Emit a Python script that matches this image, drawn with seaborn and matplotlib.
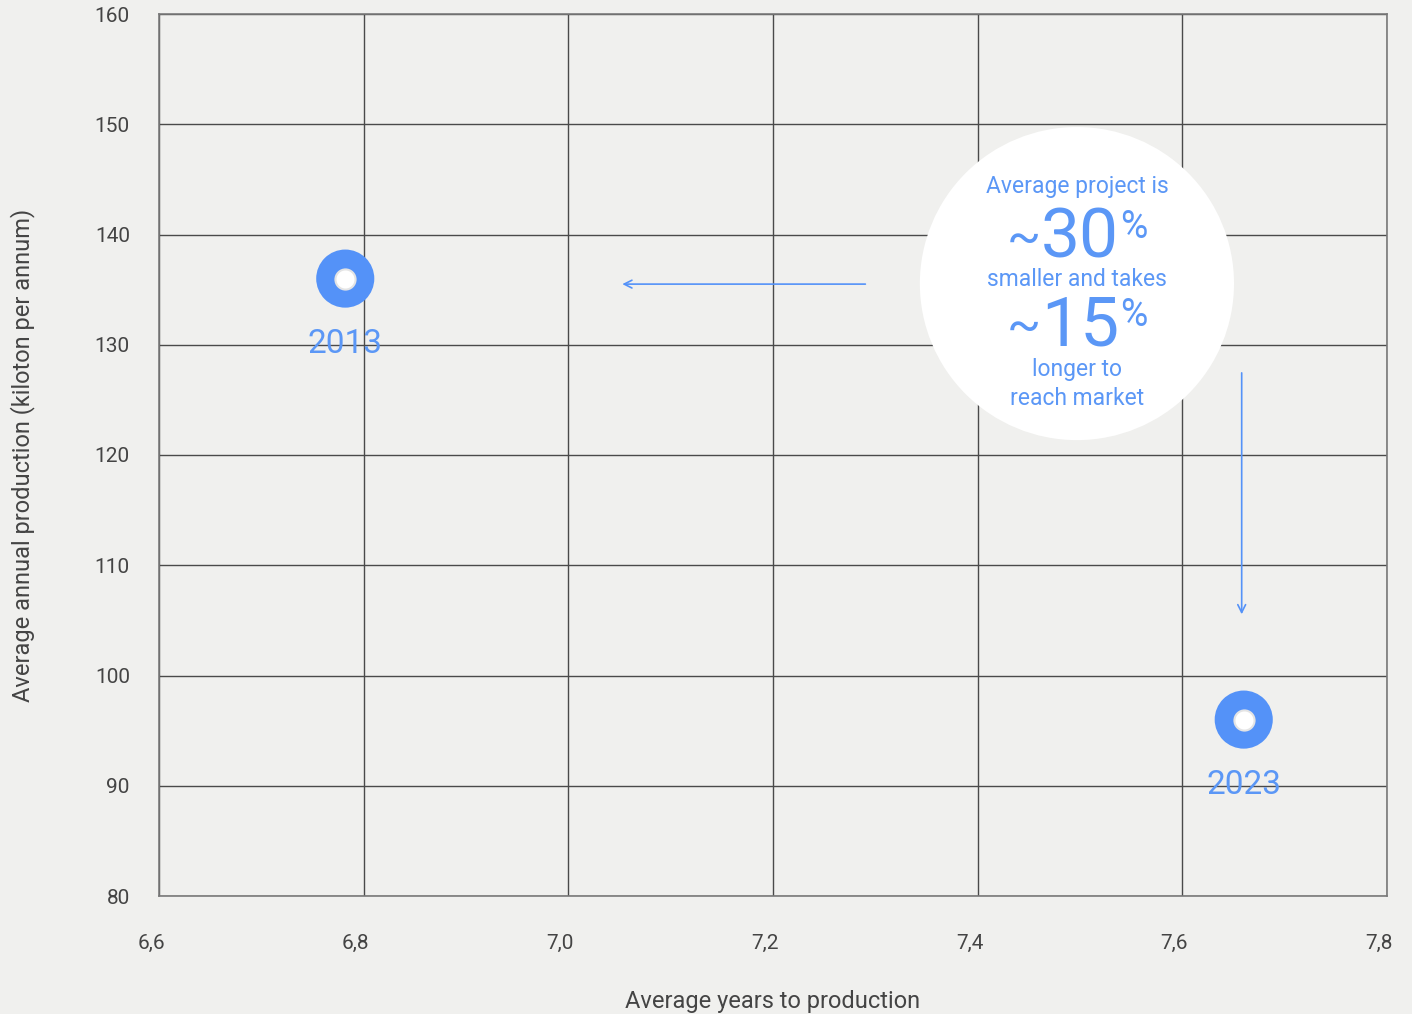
import matplotlib
matplotlib.use("Agg")
import matplotlib.pyplot as plt
import matplotlib.transforms as mtransforms
from matplotlib.patches import Ellipse
import seaborn as sns
import pandas as pd

# ---- data ----
years = ["2013", "2023"]
avg_years_to_production = [6.782, 7.66]
avg_annual_production = [136, 96]

x_ticks = [6.6, 6.8, 7.0, 7.2, 7.4, 7.6, 7.8]
x_tick_labels = ["6,6", "6,8", "7,0", "7,2", "7,4", "7,6", "7,8"]
y_ticks = [80, 90, 100, 110, 120, 130, 140, 150, 160]
y_tick_labels = ["80", "90", "100", "110", "120", "130", "140", "150", "160"]

x_label = "Average years to production"
y_label = "Average annual production (kiloton per annum)"

df = pd.DataFrame({"x": avg_years_to_production, "y": avg_annual_production, "year": years})

BG = "#f0f0ee"
BLUE = "#5492f8"
TXT_BLUE = "#5b97f6"
GRAY = "#444444"
W = "normal"

sns.set_theme(style="whitegrid", rc={
    "axes.facecolor": BG, "figure.facecolor": BG,
    "grid.color": "#4a4a4a", "grid.linewidth": 1.0,
    "axes.edgecolor": "#7a7a7a", "axes.linewidth": 1.2,
})
plt.rcParams["font.family"] = ["Roboto", "DejaVu Sans"]

fig = plt.figure(figsize=(14.12, 10.14), dpi=100)
ax = fig.add_axes([159/1412, 1 - 896/1014, (1387-159)/1412, (896-14)/1014])

ax.set_xlim(6.6, 7.8)
ax.set_ylim(80, 160)
ax.set_xticks(x_ticks)
ax.set_xticklabels(x_tick_labels)
ax.set_yticks(y_ticks)
ax.set_yticklabels(y_tick_labels)
ax.tick_params(axis="both", length=0, labelsize=15, labelcolor=GRAY)
ax.tick_params(axis="x", pad=27)
ax.tick_params(axis="y", pad=21)
for lab in ax.get_xticklabels():
    lab.set_transform(lab.get_transform() + mtransforms.ScaledTranslation(-8/100, 0, fig.dpi_scale_trans))
for lab in ax.get_xticklabels() + ax.get_yticklabels():
    lab.set_fontweight(W)
for s in ax.spines.values():
    s.set_visible(True)
    s.set_color("#7a7a7a")

ax.set_xlabel(x_label, fontsize=17, color=GRAY, labelpad=27, fontweight=W)
ax.set_ylabel(y_label, fontsize=17, color=GRAY, labelpad=43, fontweight=W)

# white annotation circle
ax.add_patch(Ellipse((7.497, 135.55), 0.307, 28.4, facecolor="white", edgecolor="none", zorder=3))

# points
sns.scatterplot(data=df, x="x", y="y", ax=ax, s=1750, color=BLUE, edgecolor="none", zorder=5, legend=False)
sns.scatterplot(data=df, x="x", y="y", ax=ax, s=210, color="white", edgecolor="#e4e4e4", linewidth=1.5, zorder=6, legend=False)
for xv, yv, yr in zip(avg_years_to_production, avg_annual_production, years):
    ax.annotate(yr, (xv, yv), xytext=(0, -47), textcoords="offset points", ha="center", va="center",
                fontsize=24, color=TXT_BLUE, fontweight=W, zorder=7)

# arrows
ax.annotate("", xy=(7.05, 135.5), xytext=(7.293, 135.5),
            arrowprops=dict(arrowstyle="->", color=BLUE, lw=1.2, mutation_scale=14), zorder=4)
ax.annotate("", xy=(7.658, 105.3), xytext=(7.658, 127.7),
            arrowprops=dict(arrowstyle="->", color=BLUE, lw=1.2, mutation_scale=14), zorder=4)

# circle text
cx = 7.497
def ctext(y, s, size):
    ax.text(cx, y, s, ha="center", va="baseline", fontsize=size, color=TXT_BLUE, fontweight=W, zorder=8)

ctext(143.76, "Average project is", 16.5)
ctext(135.33, "smaller and takes", 16.5)
ctext(127.17, "longer to", 16.5)
ctext(124.54, "reach market", 16.5)
for yb, num in [(137.87, "30"), (129.89, "15")]:
    ax.text(cx - 0.052, yb + 1.7, "~", ha="center", va="center", fontsize=36, color=TXT_BLUE, fontweight=W, zorder=8)
    ax.text(cx + 0.003, yb, num, ha="center", va="baseline", fontsize=50, color=TXT_BLUE, fontweight=W, zorder=8)
    ax.text(cx + 0.056, yb + 1.85, "%", ha="center", va="baseline", fontsize=27, color=TXT_BLUE, fontweight=W, zorder=8)

fig.savefig("out.png", dpi=100, facecolor=BG)
